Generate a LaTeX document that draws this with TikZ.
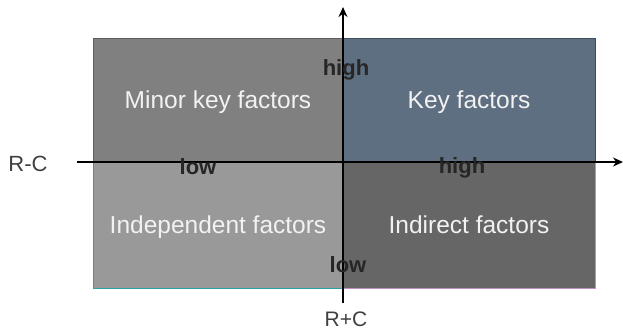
\documentclass[tikz,border=0pt]{standalone}
\usepackage{fontspec}
\setmainfont{Liberation Sans}
\usetikzlibrary{arrows.meta}
\definecolor{tlfill}{HTML}{808080}
\definecolor{tlline}{HTML}{5E5E5E}
\definecolor{trfill}{HTML}{5F6F82}
\definecolor{trline}{HTML}{3F4C5C}
\definecolor{blfill}{HTML}{999999}
\definecolor{blline}{HTML}{2AA0A8}
\definecolor{brfill}{HTML}{666666}
\definecolor{brline}{HTML}{C090C8}
\begin{document}
\begin{tikzpicture}[x=1pt,y=-1pt,
  quad/.style={draw, line width=1pt, text=white!95!black, font=\fontsize{24.5}{28}\selectfont, inner sep=0pt, text depth=0pt},
  axis/.style={line width=1.4pt, -{Stealth[length=10pt,width=9pt]}},
  lbl/.style={font=\bfseries\fontsize{22}{26}\selectfont, text=black!85, inner sep=0pt},
  ax/.style={font=\fontsize{22}{26}\selectfont, text=black!75, inner sep=0pt}]
\useasboundingbox (0,0) rectangle (623,335);
\node[quad, fill=tlfill, draw=tlline, minimum width=250pt, minimum height=124pt] (tl) at (218,100) {Minor key factors};
\node[quad, fill=trfill, draw=trline, minimum width=252pt, minimum height=124pt] (tr) at (469,100) {Key factors};
\node[quad, fill=blfill, draw=blline, minimum width=250pt, minimum height=126pt] (bl) at (218,225) {Independent factors};
\node[quad, fill=brfill, draw=brline, minimum width=252pt, minimum height=126pt] (br) at (469,225) {Indirect factors};
\coordinate (xs) at (77,162);
\coordinate (xe) at (623,162);
\coordinate (ys) at (343,303);
\coordinate (ye) at (343,7);
\draw[axis] (xs) -- (xe);
\draw[axis] (ys) -- (ye);
\node[lbl] (yhigh) at (346,70) {high};
\node[lbl] (xlow) at (198,167) {low};
\node[lbl] (xhigh) at (462,168) {high};
\node[lbl] (ylow) at (348,265) {low};
\node[ax] (rc) at (28,164) {R-C};
\node[ax, font=\fontsize{21}{24}\selectfont] (rpc) at (346,319) {R+C};
\end{tikzpicture}
\end{document}
